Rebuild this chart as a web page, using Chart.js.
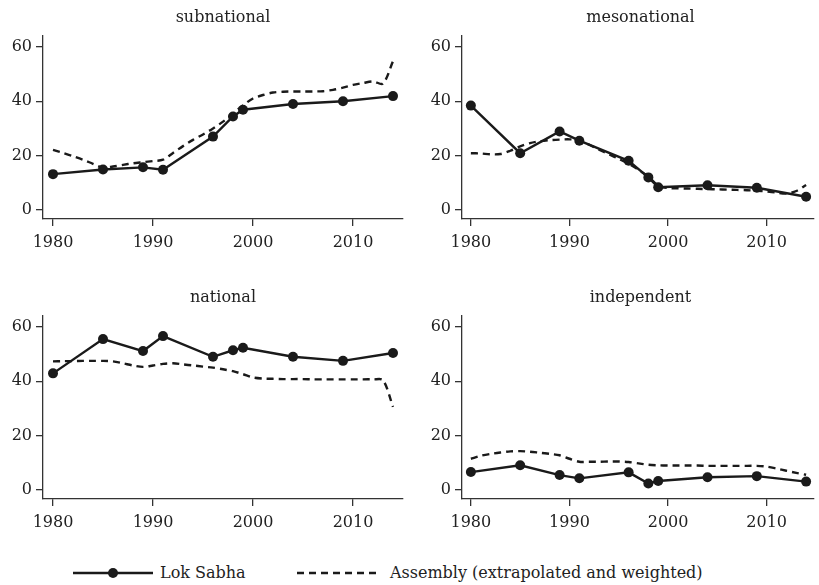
<!DOCTYPE html>
<html>
<head>
<meta charset="utf-8">
<script src="https://cdn.jsdelivr.net/npm/chart.js@4/dist/chart.umd.min.js"></script>
<style>
  html, body { margin: 0; padding: 0; background: #fff; }
  #wrap { position: relative; width: 819px; height: 585px; overflow: hidden; font-family: 'DejaVu Serif', serif; color: #222; }
  .panel { position: absolute; }
  .ptitle { position: absolute; font-size: 16px; text-align: center; transform: translateX(-50%); white-space: nowrap; line-height: 1; }
  .legend { position: absolute; left: 0; top: 562px; width: 819px; height: 22px; font-size: 16px; }
  .legend span { position: absolute; top: 1px; white-space: nowrap; line-height: 20px; }
  .legend svg { position: absolute; top: 0; }
</style>
</head>
<body>
<div id="wrap">
  <div class="legend">
    <svg style="left:70px" width="90" height="22"><line x1="3" y1="11" x2="83" y2="11" stroke="#1a1a1a" stroke-width="2.4"/><circle cx="43" cy="11" r="5" fill="#1a1a1a"/></svg>
    <span style="left:160px">Lok Sabha</span>
    <svg style="left:295px" width="90" height="22"><line x1="2" y1="11" x2="85" y2="11" stroke="#1a1a1a" stroke-width="2.4" stroke-dasharray="7,5"/></svg>
    <span style="left:390px">Assembly (extrapolated and weighted)</span>
  </div>
</div>
<script>
// Election years for the Lok Sabha series
const lokSabhaYears = [1980, 1985, 1989, 1991, 1996, 1998, 1999, 2004, 2009, 2014];
// Yearly points for the assembly series
const assemblyYears = [1980, 1981, 1982, 1983, 1984, 1985, 1986, 1987, 1988, 1989,
  1990, 1991, 1992, 1993, 1994, 1995, 1996, 1997, 1998, 1999,
  2000, 2001, 2002, 2003, 2004, 2005, 2006, 2007, 2008, 2009,
  2010, 2011, 2012, 2013, 2014];

const panelTitles = ['subnational', 'mesonational', 'national', 'independent'];

const subnationalLS = [13.2, 14.9, 15.7, 14.8, 27.0, 34.4, 36.9, 39.0, 40.0, 41.9];
const mesonationalLS = [38.4, 20.9, 28.9, 25.5, 18.1, 12.0, 8.4, 9.1, 8.2, 4.9];
const nationalLS = [42.9, 55.5, 51.1, 56.6, 49.0, 51.4, 52.3, 49.0, 47.5, 50.4];
const independentLS = [6.6, 9.1, 5.5, 4.3, 6.5, 2.4, 3.3, 4.7, 5.1, 3.1];

const subnationalAS = [22.1, 21.0, 19.8, 18.5, 17.0, 15.6, 16.0, 16.6, 17.2, 17.6,
  18.0, 18.5, 21.0, 23.5, 25.8, 27.8, 30.0, 32.5, 35.5, 38.5,
  41.0, 42.3, 43.2, 43.5, 43.6, 43.6, 43.6, 43.7, 44.2, 45.0,
  46.0, 46.7, 47.3, 46.5, 54.7];
const mesonationalAS = [20.9, 20.8, 20.5, 20.6, 21.8, 23.4, 24.6, 25.3, 25.7, 25.9,
  26.0, 25.6, 24.0, 22.2, 20.5, 18.8, 17.0, 14.8, 12.3, 9.0,
  8.1, 8.0, 7.9, 7.8, 7.7, 7.6, 7.5, 7.4, 7.3, 7.1,
  6.8, 6.4, 6.1, 7.0, 9.2];
const nationalAS = [47.3, 47.4, 47.4, 47.5, 47.5, 47.5, 47.3, 46.6, 45.8, 45.3,
  45.8, 46.4, 46.6, 46.2, 45.8, 45.4, 45.0, 44.4, 43.7, 42.6,
  41.4, 41.0, 40.9, 40.8, 40.8, 40.8, 40.7, 40.7, 40.7, 40.7,
  40.7, 40.7, 40.7, 40.4, 30.6];
const independentAS = [11.5, 12.6, 13.3, 13.8, 14.2, 14.3, 14.1, 13.7, 13.3, 12.8,
  11.5, 10.4, 10.4, 10.4, 10.5, 10.5, 10.3, 9.8, 9.3, 9.1,
  9.0, 9.0, 9.0, 9.0, 8.9, 8.9, 8.9, 8.9, 8.9, 8.9,
  8.6, 7.9, 7.1, 6.3, 5.6];

const xTicks = [1980, 1990, 2000, 2010];
const yTicks = [0, 20, 40, 60];

Chart.defaults.font.family = "'DejaVu Serif', serif";
Chart.defaults.color = '#222';

const ink = '#1a1a1a';
const axisColor = '#333';

function pairs(xs, ys) {
  return xs.map((x, i) => ({ x: x, y: ys[i] }));
}

function makePanel(idx, left, top, width, xMin, xMax, ls, as) {
  const wrap = document.getElementById('wrap');
  const holder = document.createElement('div');
  holder.className = 'panel';
  holder.style.left = left + 'px';
  holder.style.top = top + 'px';
  const canvas = document.createElement('canvas');
  canvas.width = width;
  canvas.height = 280;
  canvas.style.width = width + 'px';
  canvas.style.height = '280px';
  holder.appendChild(canvas);
  wrap.appendChild(holder);

  const title = document.createElement('div');
  title.className = 'ptitle';
  title.textContent = panelTitles[idx];
  title.style.left = (left + 43 + (width - 43 - (idx % 2 === 0 ? 7 : 0)) / 2) + 'px';
  title.style.top = (top + 9) + 'px';
  wrap.appendChild(title);

  new Chart(canvas, {
    type: 'line',
    data: {
      datasets: [
        {
          label: 'Lok Sabha',
          data: pairs(lokSabhaYears, ls),
          borderColor: ink,
          backgroundColor: ink,
          borderWidth: 2.4,
          pointRadius: 5,
          pointBorderWidth: 0,
          pointBackgroundColor: ink,
          tension: 0
        },
        {
          label: 'Assembly (extrapolated and weighted)',
          data: pairs(assemblyYears, as),
          borderColor: ink,
          borderWidth: 2.4,
          borderDash: [7, 5],
          pointRadius: 0,
          tension: 0.3
        }
      ]
    },
    options: {
      responsive: false,
      animation: false,
      layout: { padding: { top: 36, right: idx % 2 === 0 ? 7 : 0, left: 0, bottom: 0 } },
      plugins: { legend: { display: false }, tooltip: { enabled: false } },
      scales: {
        x: {
          type: 'linear',
          min: xMin,
          max: xMax,
          afterBuildTicks: s => { s.ticks = xTicks.map(v => ({ value: v })); },
          afterFit: s => { s.height = 61; },
          ticks: { font: { size: 16 }, color: '#222', padding: 7, callback: v => String(v) },
          grid: { display: true, drawOnChartArea: false, drawTicks: true, tickLength: 7, tickColor: axisColor, lineWidth: 1.3 },
          border: { display: true, color: axisColor, width: 1.3 }
        },
        y: {
          min: -3.3,
          max: 64,
          afterBuildTicks: s => { s.ticks = yTicks.map(v => ({ value: v })); },
          afterFit: s => { s.width = 43; },
          ticks: { font: { size: 16 }, color: '#222', padding: 4, callback: v => String(v) },
          grid: { display: true, drawOnChartArea: false, drawTicks: true, tickLength: 7, tickColor: axisColor, lineWidth: 1.3 },
          border: { display: true, color: axisColor, width: 1.3 }
        }
      }
    }
  });
}

makePanel(0, 0, 0, 410, 1979.0, 2015.0, subnationalLS, subnationalAS);
makePanel(1, 419, 0, 400, 1979.1, 2014.8, mesonationalLS, mesonationalAS);
makePanel(2, 0, 280, 410, 1979.0, 2015.0, nationalLS, nationalAS);
makePanel(3, 419, 280, 400, 1979.1, 2014.8, independentLS, independentAS);
</script>
</body>
</html>
